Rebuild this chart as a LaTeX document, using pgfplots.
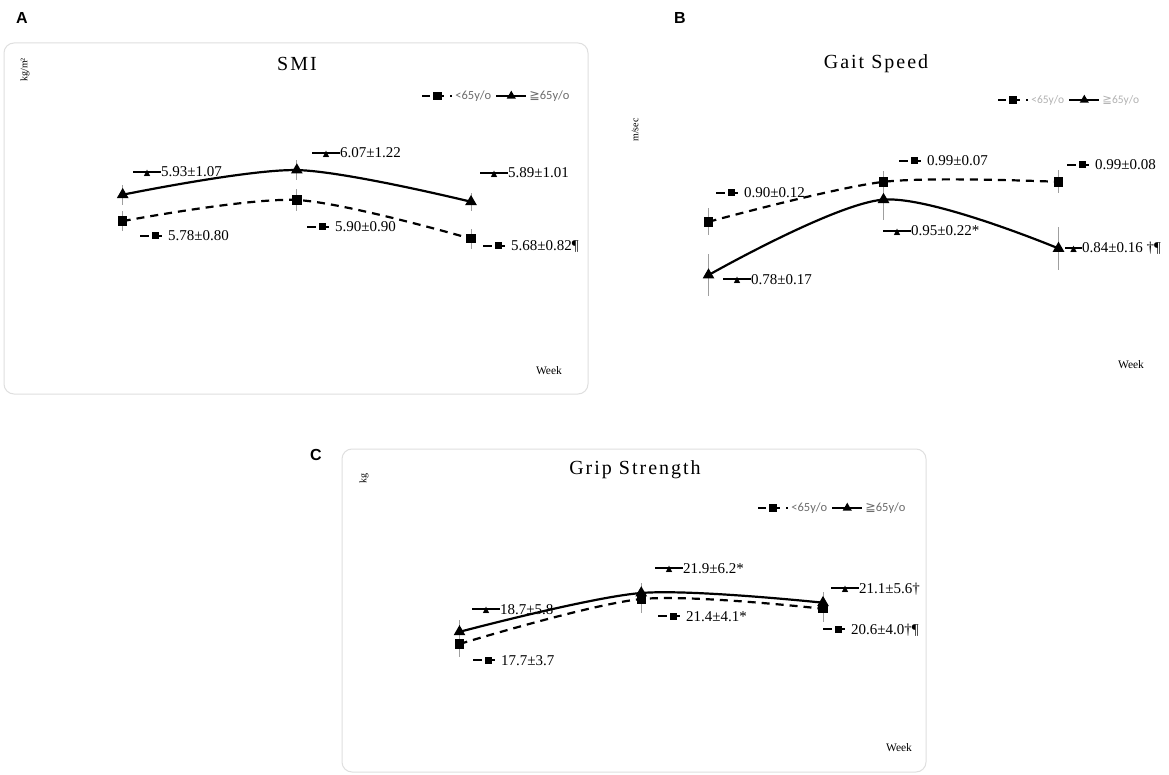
\documentclass[border=0pt]{standalone}
\usepackage{fontspec}
\setmainfont{Liberation Serif}
\newfontfamily\arialb{Liberation Sans}
\newfontfamily\carlito{Carlito}
\newfontfamily\dejavu{DejaVu Sans}
\newfontfamily\titlefont[LetterSpace=10]{Liberation Serif}
\usepackage{pgfplots}
\pgfplotsset{compat=1.18}

\newcommand\lab{\fontsize{15}{15}\selectfont}
\newcommand\trisym[1][28pt]{\makebox[#1][l]{\rlap{\rule[4pt]{#1}{2pt}}\hspace{\dimexpr#1/2-3.3pt\relax}\raisebox{1.6pt}{\dejavu\fontsize{8.5}{8.5}\selectfont ▲}}}
\newcommand\sqsym{\makebox[28pt][l]{\rule[4pt]{9pt}{2pt}\hspace{3pt}\rule[1.5pt]{7pt}{7pt}\rule[4pt]{3pt}{2pt}}}
\newcommand\geqsym{{\dejavu ≧}}

\pgfplotsset{
  panel/.style={scale only axis, hide axis, clip=false, xmin=0, xmax=2,
    legend style={draw=none, fill=none, inner sep=0pt, anchor=west,
      legend columns=2, font=\carlito\fontsize{12.5}{12.5}\selectfont,
      text=gray!85!black,
      /tikz/every even column/.append style={column sep=2pt},
      cells={inner sep=1pt}},
    legend image code/.code={\draw[mark repeat=2,mark phase=2,##1] plot coordinates {(0pt,0pt) (15pt,0pt) (30pt,0pt)};},
    legend image post style={mark size=3.1pt},
  },
  young/.style={black, line width=2.2pt, dash pattern=on 8pt off 6pt,
    mark=square*, mark size=3.6pt, mark options={solid}, smooth,
    error bars/.cd, y dir=both, y explicit, error mark=none,
    error bar style={gray!75, line width=0.9pt, solid}},
  old/.style={black, line width=2.2pt, solid,
    mark=triangle*, mark size=4.6pt, mark options={solid}, smooth,
    error bars/.cd, y dir=both, y explicit, error mark=none,
    error bar style={gray!75, line width=0.9pt, solid}},
}

\begin{document}
\begin{tikzpicture}
\fill[white] (0,0) rectangle (1169pt,-775pt);
\path[use as bounding box] (0,0) rectangle (1169pt,-775pt);

% panel frames
\draw[gray!25, line width=1pt, rounded corners=10pt] (4pt,-43pt) rectangle (588pt,-394pt);
\draw[gray!25, line width=1pt, rounded corners=10pt] (342pt,-449pt) rectangle (926pt,-772pt);

% ---------------- A: SMI ----------------
\begin{axis}[panel, at={(122.7pt,-323.2pt)}, anchor=south west,
  width=348.3pt, height=193.6pt, ymin=5.2, ymax=6.3,
  legend style={at={(axis description cs:0.8565,1.1736)}}]
\addplot[young] coordinates {(0,5.78) +- (0,0.057) (1,5.90) +- (0,0.062) (2,5.68) +- (0,0.057)};
\addplot[old] coordinates {(0,5.93) +- (0,0.057) (1,6.07) +- (0,0.057) (2,5.89) +- (0,0.05)};
\legend{<65y/o, \geqsym65y/o}
\end{axis}

% ---------------- B: Gait speed ----------------
\begin{axis}[panel, at={(708.5pt,-355pt)}, anchor=south west,
  width=350pt, height=222pt, ymin=0.6, ymax=1.1,
  legend style={at={(axis description cs:0.824,1.1486)}, text=gray!60,
    font=\carlito\fontsize{11.5}{11.5}\selectfont}]
\addplot[young] coordinates {(0,0.90) +- (0,0.030) (1,0.99) +- (0,0.025) (2,0.99) +- (0,0.026)};
\addplot[old] coordinates {(0,0.78) +- (0,0.047) (1,0.95) +- (0,0.047) (2,0.84) +- (0,0.048)};
\legend{<65y/o, \geqsym65y/o}
\end{axis}

% ---------------- C: Grip strength ----------------
\begin{axis}[panel, at={(459.5pt,-713.2pt)}, anchor=south west,
  width=363.5pt, height=170pt, ymin=12, ymax=26,
  legend style={at={(axis description cs:0.8184,1.207)}}]
\addplot[young] coordinates {(0,17.7) +- (0,1.05) (1,21.4) +- (0,1.15) (2,20.6) +- (0,1.05)};
\addplot[old] coordinates {(0,18.7) +- (0,1.0) (1,21.9) +- (0,0.85) (2,21.1) +- (0,0.85)};
\legend{<65y/o, \geqsym65y/o}
\end{axis}

% panel letters
\node[font=\arialb\bfseries\fontsize{16}{16}\selectfont] at (22pt,-18pt) {A};
\node[font=\arialb\bfseries\fontsize{16}{16}\selectfont] at (680pt,-18pt) {B};
\node[font=\arialb\bfseries\fontsize{16}{16}\selectfont] at (316pt,-455pt) {C};

% titles
\node[font=\titlefont\fontsize{20}{20}\selectfont] at (297pt,-64pt) {SMI};
\node[font=\titlefont\fontsize{20}{20}\selectfont] at (876pt,-64pt) {Gait Speed};
\node[font=\titlefont\fontsize{20}{20}\selectfont] at (635pt,-470pt) {Grip Strength};

% unit labels
\node[rotate=90, font=\fontsize{10}{10}\selectfont] at (25pt,-70pt) {kg/m²};
\node[rotate=90, font=\fontsize{10}{10}\selectfont] at (635pt,-130pt) {m/sec};
\node[rotate=90, font=\fontsize{10}{10}\selectfont] at (364pt,-478pt) {kg};

% x labels
\node[font=\fontsize{11.5}{11.5}\selectfont] at (549pt,-371pt) {Week};
\node[font=\fontsize{11.5}{11.5}\selectfont] at (1131pt,-365pt) {Week};
\node[font=\fontsize{11.5}{11.5}\selectfont] at (899pt,-748pt) {Week};

% value labels A
\node[anchor=base west, inner sep=0pt, font=\lab] at (133pt,-176.7pt) {\trisym 5.93±1.07};
\node[anchor=base west, inner sep=0pt, font=\lab] at (312pt,-157.7pt) {\trisym 6.07±1.22};
\node[anchor=base west, inner sep=0pt, font=\lab] at (480pt,-177.7pt) {\trisym 5.89±1.01};
\node[anchor=base west, inner sep=0pt, font=\lab] at (140pt,-241pt) {\sqsym 5.78±0.80};
\node[anchor=base west, inner sep=0pt, font=\lab] at (307pt,-232pt) {\sqsym 5.90±0.90};
\node[anchor=base west, inner sep=0pt, font=\lab] at (483pt,-250.7pt) {\sqsym 5.68±0.82¶};

% value labels B
\node[anchor=base west, inner sep=0pt, font=\lab] at (716pt,-197.7pt) {\sqsym 0.90±0.12};
\node[anchor=base west, inner sep=0pt, font=\lab] at (899pt,-165.7pt) {\sqsym 0.99±0.07};
\node[anchor=base west, inner sep=0pt, font=\lab] at (1067pt,-170pt) {\sqsym 0.99±0.08};
\node[anchor=base west, inner sep=0pt, font=\lab] at (723pt,-284.3pt) {\trisym 0.78±0.17};
\node[anchor=base west, inner sep=0pt, font=\lab] at (883pt,-235.7pt) {\trisym 0.95±0.22*};
\node[anchor=base west, inner sep=0pt, font=\lab] at (1065pt,-253pt) {\trisym[17pt]0.84±0.16 †¶};

% value labels C
\node[anchor=base west, inner sep=0pt, font=\lab] at (472pt,-614pt) {\trisym 18.7±5.8};
\node[anchor=base west, inner sep=0pt, font=\lab] at (655pt,-573pt) {\trisym 21.9±6.2*};
\node[anchor=base west, inner sep=0pt, font=\lab] at (831pt,-593pt) {\trisym 21.1±5.6†};
\node[anchor=base west, inner sep=0pt, font=\lab] at (473pt,-665pt) {\sqsym 17.7±3.7};
\node[anchor=base west, inner sep=0pt, font=\lab] at (658pt,-621pt) {\sqsym 21.4±4.1*};
\node[anchor=base west, inner sep=0pt, font=\lab] at (823pt,-634pt) {\sqsym 20.6±4.0†¶};
\end{tikzpicture}
\end{document}
